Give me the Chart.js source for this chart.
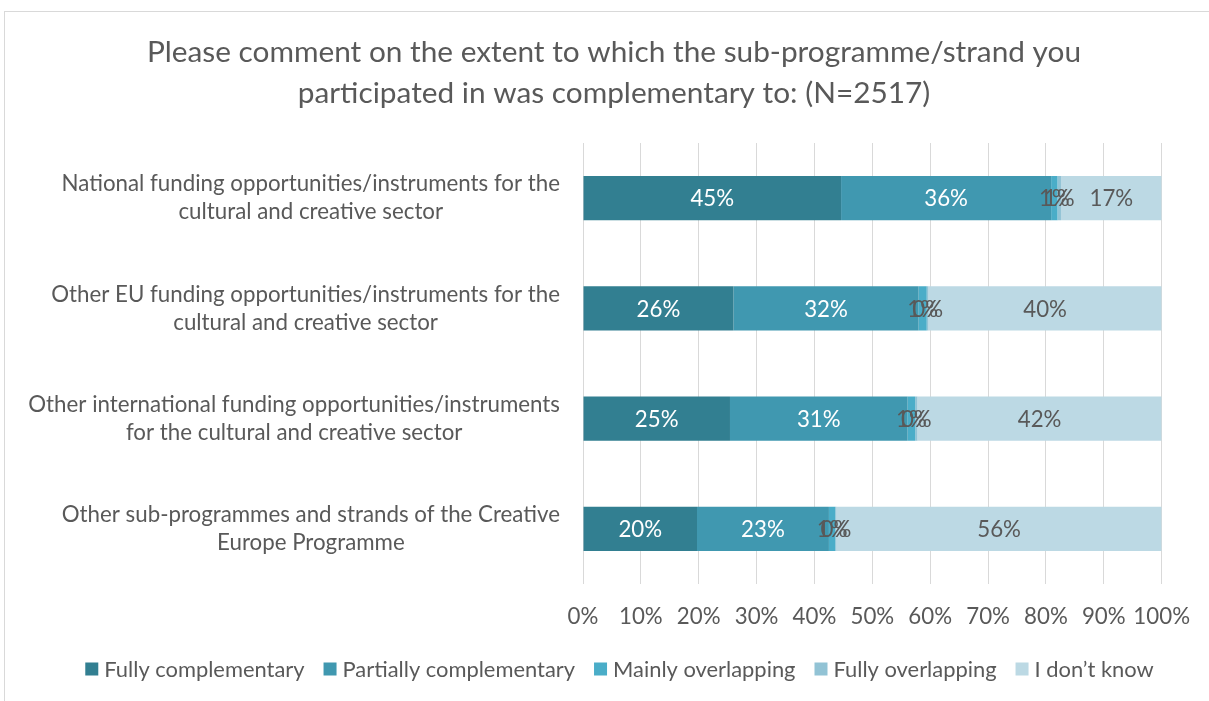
<!DOCTYPE html>
<html>
<head>
<meta charset="utf-8">
<script src="https://cdn.jsdelivr.net/npm/chart.js@4.4.1/dist/chart.umd.min.js"></script>
<style>
  html, body { margin: 0; padding: 0; background: #ffffff; }
  #wrap { position: relative; width: 1209px; height: 701px; }
</style>
</head>
<body>
<div id="wrap"><canvas id="chart" width="1209" height="701"></canvas></div>
<script>
// Survey question and answer categories
const titleLines = [
  'Please comment on the extent to which the sub-programme/strand you',
  'participated in was complementary to: (N=2517)'
];
const categories = [
  ['National funding opportunities/instruments for the', 'cultural and creative sector'],
  ['Other EU funding opportunities/instruments for the', 'cultural and creative sector'],
  ['Other international funding opportunities/instruments', 'for the cultural and creative sector'],
  ['Other sub-programmes and strands of the Creative', 'Europe Programme']
];
const seriesNames = ['Fully complementary', 'Partially complementary', 'Mainly overlapping', 'Fully overlapping', 'I don\u2019t know'];

// Share of respondents (%) per answer, one value per category
const fullyComplementary     = [44.6, 26.0, 25.4, 19.7];
const partiallyComplementary = [36.3, 32.0, 30.7, 22.8];
const mainlyOverlapping      = [1.1, 1.4, 1.3, 1.1];
const fullyOverlapping       = [0.6, 0.3, 0.4, 0.2];
const dontKnow               = [17.4, 40.3, 42.2, 56.2];

const tickLabels = ['0%', '10%', '20%', '30%', '40%', '50%', '60%', '70%', '80%', '90%', '100%'];

const seriesValues = [fullyComplementary, partiallyComplementary, mainlyOverlapping, fullyOverlapping, dontKnow];
const seriesColors = ['#327F91', '#4098B0', '#4AADC8', '#92C3D5', '#BCD9E4'];
const labelColors  = ['#FFFFFF', '#FFFFFF', '#595959', '#595959', '#595959'];

const FONT = 'Lato, "Open Sans", sans-serif';
const TEXT = '#595959';
const BODY_SIZE = 22.3;
const LEGEND_SIZE = 21.9;
const TITLE_SIZE = 29.8;

// White background plus the thin frame around the chart
const framePlugin = {
  id: 'frame',
  beforeDraw(chart) {
    const c = chart.ctx;
    c.save();
    c.fillStyle = '#FFFFFF';
    c.fillRect(0, 0, chart.width, chart.height);
    c.strokeStyle = '#D9D9D9';
    c.lineWidth = 1;
    c.strokeRect(4.5, 11.5, chart.width + 20, chart.height + 20);
    c.restore();
  }
};

// Two-line chart title, centred on the framed area
const titlePlugin = {
  id: 'chartTitle',
  afterDraw(chart) {
    const c = chart.ctx;
    c.save();
    c.font = TITLE_SIZE + 'px ' + FONT;
    c.fillStyle = TEXT;
    c.textAlign = 'center';
    c.textBaseline = 'middle';
    titleLines.forEach((l, i) => c.fillText(l, 614, 52 + i * 41));
    c.restore();
  }
};

// Single-row legend along the bottom, built from the chart's datasets
const legendPlugin = {
  id: 'bottomLegend',
  afterDraw(chart) {
    const c = chart.ctx;
    const box = 13, gap = 6, spacing = 19, y = 669;
    c.save();
    c.font = LEGEND_SIZE + 'px ' + FONT;
    c.textBaseline = 'middle';
    c.textAlign = 'left';
    const items = chart.data.datasets.map(ds => ({
      text: ds.label, color: ds.backgroundColor, w: c.measureText(ds.label).width
    }));
    const total = items.reduce((s, it) => s + box + gap + it.w, 0) + spacing * (items.length - 1);
    let x = 619.5 - total / 2;
    items.forEach(it => {
      c.fillStyle = it.color;
      c.fillRect(x, y - box / 2, box, box);
      c.fillStyle = TEXT;
      c.fillText(it.text, x + box + gap, y + 1);
      x += box + gap + it.w + spacing;
    });
    c.restore();
  }
};

// Category labels: block right-aligned against the plot, lines centred within the block
const categoryLabelPlugin = {
  id: 'categoryLabels',
  afterDraw(chart) {
    const c = chart.ctx;
    const yScale = chart.scales.y;
    const right = chart.chartArea.left - 23;
    const lineH = 28;
    c.save();
    c.font = BODY_SIZE + 'px ' + FONT;
    c.fillStyle = TEXT;
    c.textAlign = 'center';
    c.textBaseline = 'middle';
    categories.forEach((lines, i) => {
      const w = Math.max(...lines.map(l => c.measureText(l).width));
      const cx = right - w / 2;
      const cy = yScale.getPixelForValue(i);
      lines.forEach((l, j) => {
        c.fillText(l, cx, cy + (j - (lines.length - 1) / 2) * lineH);
      });
    });
    c.restore();
  }
};

// Value labels centred on every bar segment
const valueLabelPlugin = {
  id: 'valueLabels',
  afterDatasetsDraw(chart) {
    const c = chart.ctx;
    c.save();
    c.font = BODY_SIZE + 'px ' + FONT;
    c.textAlign = 'center';
    c.textBaseline = 'middle';
    chart.data.datasets.forEach((ds, di) => {
      const meta = chart.getDatasetMeta(di);
      c.fillStyle = labelColors[di];
      meta.data.forEach((el, i) => {
        const v = ds.data[i];
        c.fillText(Math.round(v) + '%', (el.x + el.base) / 2, el.y + 1);
      });
    });
    c.restore();
  }
};

new Chart(document.getElementById('chart'), {
  type: 'bar',
  data: {
    labels: categories.map(l => l.join(' ')),
    datasets: seriesNames.map((name, i) => ({
      label: name,
      data: seriesValues[i],
      backgroundColor: seriesColors[i],
      borderWidth: 0,
      barPercentage: 0.4,
      categoryPercentage: 1.0
    }))
  },
  options: {
    indexAxis: 'y',
    responsive: false,
    animation: false,
    devicePixelRatio: 1,
    layout: { padding: { left: 66, right: 45, top: 143, bottom: 61 } },
    scales: {
      x: {
        stacked: true,
        min: 0,
        max: 100,
        ticks: {
          stepSize: 10,
          color: TEXT,
          font: { family: FONT, size: BODY_SIZE },
          padding: 19,
          maxRotation: 0,
          minRotation: 0,
          autoSkip: false,
          callback: (v, idx) => tickLabels[idx]
        },
        grid: { color: '#D9D9D9', lineWidth: 1, drawTicks: false },
        border: { display: false },
        afterFit(scale) { scale.height = 56; }
      },
      y: {
        stacked: true,
        ticks: { display: false },
        grid: { display: false },
        border: { display: false },
        afterFit(scale) { scale.width = 583 - 66; }
      }
    },
    plugins: {
      title: { display: false },
      legend: { display: false },
      tooltip: { enabled: false }
    }
  },
  plugins: [framePlugin, valueLabelPlugin, categoryLabelPlugin, titlePlugin, legendPlugin]
});
</script>
</body>
</html>
